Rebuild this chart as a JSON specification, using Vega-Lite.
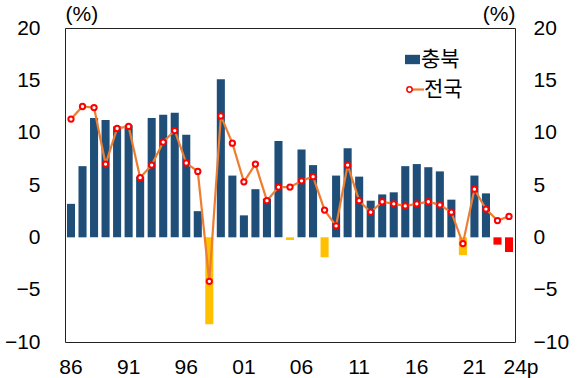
{
  "$schema": "https://vega.github.io/schema/vega-lite/v6.json",
  "autosize": "none",
  "width": 450,
  "height": 314,
  "padding": {"left": 65, "top": 28, "right": 65, "bottom": 36},
  "background": "white",
  "config": {
    "view": {"stroke": "#222", "strokeWidth": 1},
    "font": "Liberation Sans",
    "axis": {"labelFont": "Liberation Sans", "labelFontSize": 21, "labelColor": "#000", "grid": false, "ticks": false, "domain": false, "titleFont": "Liberation Sans", "titleFontSize": 21, "titleFontWeight": "normal", "titleColor": "#000"},
    "legend": {"labelFont": "Noto Sans CJK KR", "labelFontSize": 21, "labelColor": "#000", "padding": 0, "title": null}
  },
  "data": {"values": [
    {"year": "1986", "충북": 3.2, "전국": 11.3},
    {"year": "1987", "충북": 6.8, "전국": 12.5},
    {"year": "1988", "충북": 11.4, "전국": 12.4},
    {"year": "1989", "충북": 11.2, "전국": 7.0},
    {"year": "1990", "충북": 10.6, "전국": 10.4},
    {"year": "1991", "충북": 10.7, "전국": 10.6},
    {"year": "1992", "충북": 5.8, "전국": 5.7},
    {"year": "1993", "충북": 11.4, "전국": 6.9},
    {"year": "1994", "충북": 11.7, "전국": 9.1},
    {"year": "1995", "충북": 11.9, "전국": 10.2},
    {"year": "1996", "충북": 9.8, "전국": 7.1},
    {"year": "1997", "충북": 2.5, "전국": 6.3},
    {"year": "1998", "충북": -8.3, "전국": -4.2},
    {"year": "1999", "충북": 15.1, "전국": 11.6},
    {"year": "2000", "충북": 5.9, "전국": 9.0},
    {"year": "2001", "충북": 2.1, "전국": 5.3},
    {"year": "2002", "충북": 4.6, "전국": 7.0},
    {"year": "2003", "충북": 3.7, "전국": 3.5},
    {"year": "2004", "충북": 9.2, "전국": 4.8},
    {"year": "2005", "충북": -0.25, "전국": 4.8},
    {"year": "2006", "충북": 8.4, "전국": 5.4},
    {"year": "2007", "충북": 6.9, "전국": 5.8},
    {"year": "2008", "충북": -1.9, "전국": 2.6},
    {"year": "2009", "충북": 5.9, "전국": 1.1},
    {"year": "2010", "충북": 8.5, "전국": 6.9},
    {"year": "2011", "충북": 5.8, "전국": 3.5},
    {"year": "2012", "충북": 3.5, "전국": 2.4},
    {"year": "2013", "충북": 4.1, "전국": 3.4},
    {"year": "2014", "충북": 4.3, "전국": 3.2},
    {"year": "2015", "충북": 6.8, "전국": 3.0},
    {"year": "2016", "충북": 7.0, "전국": 3.2},
    {"year": "2017", "충북": 6.7, "전국": 3.4},
    {"year": "2018", "충북": 6.3, "전국": 3.1},
    {"year": "2019", "충북": 3.6, "전국": 2.4},
    {"year": "2020", "충북": -1.7, "전국": -0.6},
    {"year": "2021", "충북": 5.9, "전국": 4.6},
    {"year": "2022", "충북": 4.2, "전국": 2.7},
    {"year": "2023", "충북": -0.7, "전국": 1.6},
    {"year": "2024", "충북": -1.4, "전국": 2.0}
  ]},
  "encoding": {
    "x": {
      "field": "year", "type": "ordinal",
      "scale": {"paddingInner": 0.3, "paddingOuter": 0.17},
      "axis": {
        "title": null, "labelAngle": 0, "labelPadding": 14,
        "values": ["1986", "1991", "1996", "2001", "2006", "2011", "2016", "2021", "2024"],
        "labelExpr": "datum.value == '2024' ? '24p' : substring(datum.value, 2, 4)",
        "labelOffset": {"condition": {"test": "datum.value == '2024'", "value": 12}, "value": 0}
      }
    }
  },
  "layer": [
    {
      "transform": [{"fold": ["충북"], "as": ["s1", "v"]}],
      "mark": {"type": "bar"},
      "encoding": {
        "y": {
          "field": "v", "type": "quantitative",
          "scale": {"domain": [-10, 20], "nice": false},
          "axis": {"orient": "left", "values": [-10, -5, 0, 5, 10, 15, 20], "labelPadding": 25, "title": "(%)", "titleAngle": 0, "titleX": 0, "titleY": -8, "titleAlign": "left", "titleBaseline": "alphabetic"}
        },
        "fill": {
          "field": "s1", "type": "nominal",
          "condition": [
            {"test": "datum.year == '2023' || datum.year == '2024'", "value": "#FF0000"},
            {"test": "datum.v < 0", "value": "#FFC000"}
          ],
          "scale": {"range": ["#1F4E79"]},
          "legend": {"orient": "none", "legendX": 337, "legendY": 21, "symbolType": "M-1,-0.625H1V0.625H-1Z", "symbolSize": 225, "symbolStrokeWidth": 0, "labelOffset": -2}
        }
      }
    },
    {
      "mark": {"type": "rule", "color": "#000", "strokeWidth": 1.5},
      "encoding": {"y": {"datum": 0, "type": "quantitative", "axis": null}}
    },
    {
      "transform": [{"fold": ["전국"], "as": ["s2", "v"]}],
      "mark": {"type": "line", "strokeWidth": 2.2},
      "encoding": {
        "y": {
          "field": "v", "type": "quantitative",
          "axis": {"orient": "right", "values": [-10, -5, 0, 5, 10, 15, 20], "labelPadding": 18, "title": "(%)", "titleAngle": 0, "titleX": 0, "titleY": -8, "titleAlign": "right", "titleBaseline": "alphabetic"}
        },
        "stroke": {
          "field": "s2", "type": "nominal",
          "scale": {"range": ["#ED7D31"]},
          "legend": {"orient": "none", "legendX": 340, "legendY": 51, "symbolType": "M-1,0H1", "symbolSize": 289, "symbolStrokeWidth": 2.2, "labelOffset": -2}
        }
      }
    },
    {
      "transform": [{"fold": ["전국"], "as": ["s3", "v"]}],
      "mark": {"type": "point", "filled": true, "fill": "white", "stroke": "#FF0000", "strokeWidth": 2, "size": 28, "opacity": 1},
      "encoding": {
        "y": {"field": "v", "type": "quantitative", "axis": null},
        "shape": {
          "field": "s3", "type": "nominal",
          "scale": {"range": ["circle"]},
          "legend": {
            "orient": "none", "legendX": 334, "legendY": 51, "symbolType": "circle", "symbolSize": 28, "labelExpr": "''",
            "encode": {"symbols": {"update": {"stroke": {"value": "#FF0000"}, "strokeWidth": {"value": 2}, "fill": {"value": "#FFFFFF"}, "opacity": {"value": 1}}}}
          }
        }
      }
    }
  ],
  "resolve": {"axis": {"y": "independent"}}
}
